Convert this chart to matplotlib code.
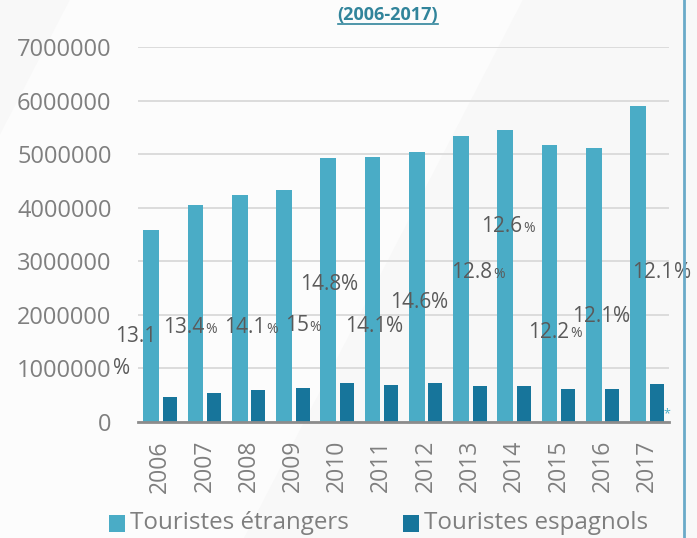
import matplotlib
matplotlib.use("Agg")
import matplotlib.pyplot as plt
from matplotlib.patches import Rectangle
from matplotlib.lines import Line2D
import numpy as np

years = ["2006", "2007", "2008", "2009", "2010", "2011", "2012", "2013", "2014", "2015", "2016", "2017"]
foreign = [3580000, 4050000, 4240000, 4330000, 4930000, 4950000, 5040000, 5340000, 5450000, 5170000, 5110000, 5900000]
spanish = [470000, 540000, 600000, 640000, 730000, 700000, 730000, 680000, 680000, 620000, 610000, 710000]
pct_values = ["13.1", "13.4", "14.1", "15", "14.8", "14.1", "14.6", "12.8", "12.6", "12.2", "12.1", "12.1"]
pct_small = [False, True, True, True, False, False, False, True, True, True, False, False]
# label anchor positions (offset from category, y value)
pct_pos_x = [-1.02, -0.93, -0.55, -0.18, -0.84, -0.82, -0.8, -0.42, -0.75, -0.68, -0.69, -0.33]
pct_pos_y = [1600000, 1760000, 1760000, 1800000, 2570000, 1780000, 2240000, 2790000, 3640000, 1680000, 1960000, 2800000]

title = "(2006-2017)"
legend_labels = ["Touristes étrangers", "Touristes espagnols"]

c_foreign = "#4aacc6"
c_spanish = "#17759b"
gray_txt = "#7f7f7f"
lab_txt = "#5a5a5a"

plt.rcParams['font.family'] = ['Open Sans', 'DejaVu Sans']

W, H = 697, 538
fig = plt.figure(figsize=(W / 100, H / 100), dpi=100)
fig.patch.set_facecolor("#f8f8f8")
# faint diagonal lighter band
fig.patches.append(plt.Polygon([[0.1, 1.0], [0.75, 1.0], [0.35, 0.0], [-0.3, 0.0]],
                               closed=True, transform=fig.transFigure, facecolor="#fcfcfc",
                               edgecolor="none", zorder=-5))

ax = fig.add_axes([138 / W, 1 - 422 / H, (669 - 138) / W, (422 - 47) / H])
ax.set_facecolor("none")

x = np.arange(len(years))
ax.bar(x - 0.2, foreign, width=0.36, color=c_foreign, zorder=3, label=legend_labels[0])
ax.bar(x + 0.22, spanish, width=0.32, color=c_spanish, zorder=3, label=legend_labels[1])

ax.set_xlim(-0.5, len(years) - 0.5)
ax.set_ylim(0, 7000000)
ax.set_yticks(np.arange(0, 7000001, 1000000))
ax.set_yticklabels([f"{v:d}" for v in range(0, 7000001, 1000000)], fontsize=17, color=gray_txt)
ax.set_xticks(x)
ax.set_xticklabels(years, rotation=90, fontsize=16.5, color=gray_txt)
ax.tick_params(axis="y", length=0, pad=19)
ax.tick_params(axis="x", length=0, pad=13)
ax.grid(axis="y", color="#d9d9d9", linewidth=1.3, zorder=0)
for s in ["top", "right", "left"]:
    ax.spines[s].set_visible(False)
ax.spines["bottom"].set_color("#8c8c8c")
ax.spines["bottom"].set_linewidth(2)
ax.spines["bottom"].set_zorder(4)

# percentage labels
for i, (v, sm) in enumerate(zip(pct_values, pct_small)):
    t = ax.text(i + pct_pos_x[i], pct_pos_y[i], v, fontsize=15, color=lab_txt,
                ha="left", va="center", zorder=5)
    if i == 0:
        ax.annotate("%", xy=(0, 0), xycoords=t, xytext=(-1.5, -8), textcoords="offset points",
                    fontsize=15, color=lab_txt, ha="left", va="top", zorder=5)
    elif sm:
        ax.annotate("%", xy=(1, 0), xycoords=t, xytext=(0.5, 1.0), textcoords="offset points",
                    fontsize=10, color=lab_txt, ha="left", va="bottom", zorder=5)
    else:
        ax.annotate("%", xy=(1, 0), xycoords=t, fontsize=15, color=lab_txt,
                    ha="left", va="bottom", zorder=5)

ax.text(11.45, 40000, "*", fontsize=9, color=c_foreign, ha="center", va="bottom", zorder=6)

# title (underlined)
tt = fig.text(388 / W, 1 - 15 / H, title, fontsize=13, fontweight="bold", color="#31849b",
              ha="center", va="center")
fig.canvas.draw()
bb = tt.get_window_extent().transformed(fig.transFigure.inverted())
fig.lines.append(Line2D([bb.x0, bb.x1], [1 - 24 / H, 1 - 24 / H], transform=fig.transFigure,
                        color="#31849b", linewidth=1.2))

# right border
fig.lines.append(Line2D([684 / W, 684 / W], [0, 1], transform=fig.transFigure,
                        color="#6aaac8", linewidth=2))

# legend
for sx, col, lab in [(109, c_foreign, legend_labels[0]), (403, c_spanish, legend_labels[1])]:
    fig.patches.append(Rectangle((sx / W, 1 - 532 / H), 16 / W, 17 / H, transform=fig.transFigure,
                                 facecolor=col, edgecolor="none"))
    fig.text((sx + 21) / W, 1 - 523 / H, lab, fontsize=17.4, color=gray_txt, ha="left", va="center")

fig.savefig("out.png", dpi=100, facecolor=fig.get_facecolor())
